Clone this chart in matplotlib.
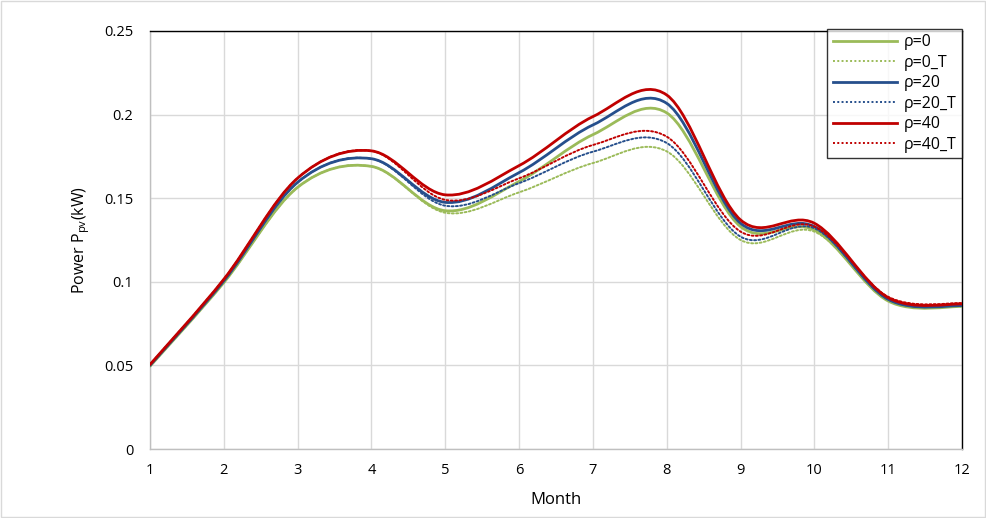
import matplotlib

matplotlib.use("Agg")

import matplotlib.pyplot as plt
from matplotlib.lines import Line2D
from matplotlib.patches import PathPatch
from matplotlib.path import Path
import numpy as np

plt.rcParams["font.family"] = ["Open Sans", "DejaVu Sans"]

MONTHS = np.arange(1, 13)

RHO0 = [0.0495, 0.0995, 0.1565, 0.169, 0.1425, 0.160, 0.188, 0.201, 0.133, 0.131, 0.0885, 0.0852]
RHO0_T = [0.0495, 0.0995, 0.1565, 0.169, 0.1413, 0.1535, 0.171, 0.178, 0.125, 0.130, 0.089, 0.0857]
RHO20 = [0.050, 0.1005, 0.1595, 0.1736, 0.1475, 0.1653, 0.1938, 0.2067, 0.135, 0.133, 0.0895, 0.0857]
RHO20_T = [0.050, 0.1005, 0.1595, 0.1736, 0.1455, 0.159, 0.1778, 0.183, 0.127, 0.132, 0.0895, 0.0862]
RHO40 = [0.0505, 0.1015, 0.162, 0.1783, 0.152, 0.1695, 0.1988, 0.2117, 0.137, 0.135, 0.0905, 0.0867]
RHO40_T = [0.0505, 0.1015, 0.162, 0.1783, 0.149, 0.1619, 0.1818, 0.1868, 0.130, 0.133, 0.091, 0.0872]

LABELS = ["ρ=0", "ρ=0_T", "ρ=20", "ρ=20_T", "ρ=40", "ρ=40_T"]
SERIES = [RHO0, RHO0_T, RHO20, RHO20_T, RHO40, RHO40_T]

GREEN = "#9bbb59"
BLUE = "#264f8c"
RED = "#c00000"
STYLES = [
    dict(color=GREEN, lw=2.0, ls="-"),
    dict(color=GREEN, lw=1.4, ls=(0, (1, 1.2))),
    dict(color=BLUE, lw=2.0, ls="-"),
    dict(color=BLUE, lw=1.4, ls=(0, (1, 1.2))),
    dict(color=RED, lw=2.0, ls="-"),
    dict(color=RED, lw=1.4, ls=(0, (1, 1.2))),
]


def smooth_path(x, y) -> Path:
    # Excel-style smoothed line: cubic Bezier segments, Catmull-Rom tangents
    pts = np.column_stack([x, y]).astype(float)
    ext = np.vstack([pts[0], pts, pts[-1]])
    verts = [pts[0]]
    codes = [Path.MOVETO]
    for i in range(len(pts) - 1):
        p0, p1, p2, p3 = ext[i], ext[i + 1], ext[i + 2], ext[i + 3]
        verts += [p1 + (p2 - p0) / 6.0, p2 - (p3 - p1) / 6.0, p2]
        codes += [Path.CURVE4] * 3
    return Path(np.array(verts), codes)


fig = plt.figure(figsize=(9.86, 5.18), dpi=100)
ax = fig.add_axes([0.1521, 0.1332, 0.8236, 0.807])

for vals, st in zip(SERIES, STYLES):
    patch = PathPatch(smooth_path(MONTHS, vals), fill=False, edgecolor=st["color"],
                      lw=st["lw"], linestyle=st["ls"], capstyle="round", zorder=3)
    ax.add_patch(patch)

ax.set_xlim(1, 12)
ax.set_ylim(0, 0.25)
ax.set_xticks(MONTHS)
ax.set_yticks([0, 0.05, 0.1, 0.15, 0.2, 0.25])
ax.set_yticklabels(["0", "0.05", "0.1", "0.15", "0.2", "0.25"])
ax.tick_params(length=0, labelsize=10.5, pad=12)
ax.tick_params(axis="x", pad=10)
ax.grid(True, color="#d9d9d9", lw=1.0, zorder=0)
ax.set_axisbelow(True)
for side in ["left", "bottom"]:
    ax.spines[side].set_color("#bfbfbf")
    ax.spines[side].set_linewidth(1.0)
for side in ["top", "right"]:
    ax.spines[side].set_color("black")
    ax.spines[side].set_linewidth(1.0)

ax.set_xlabel("Month", fontsize=12, labelpad=10)
ax.set_ylabel(r"Power P$_{\mathregular{pv}}$(kW)", fontsize=11.5, labelpad=9)

handles = [Line2D([0], [0], color=st["color"], lw=st["lw"], linestyle=st["ls"]) for st in STYLES]
leg = ax.legend(handles, LABELS, loc="upper right", bbox_to_anchor=(1.0, 1.005),
                fontsize=11.5, frameon=True, fancybox=False, handlelength=4.0,
                handletextpad=0.45, labelspacing=0.28, borderpad=0.35, borderaxespad=0.0)
leg.get_frame().set_edgecolor("black")
leg.get_frame().set_linewidth(1.0)

fig.patches.append(plt.Rectangle((0.001, 0.001), 0.998, 0.998, transform=fig.transFigure,
                                 fill=False, edgecolor="#d9d9d9", lw=1.0))

fig.savefig("out.png", dpi=100)
